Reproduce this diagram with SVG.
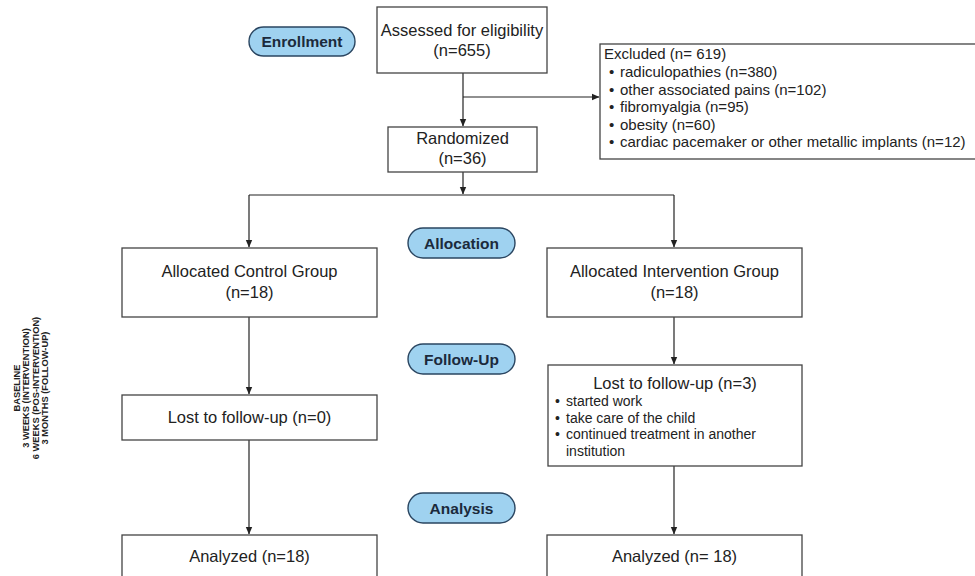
<svg xmlns="http://www.w3.org/2000/svg" width="975" height="576" viewBox="0 0 975 576">
<defs>
<marker id="ah" markerWidth="8" markerHeight="8" refX="7" refY="4" orient="auto" markerUnits="userSpaceOnUse">
<path d="M0,0.8 L7.5,4 L0,7.2 Z" fill="#222"/>
</marker>
<style>
.box{fill:#fff;stroke:#444;stroke-width:1.3}
.pill{fill:#9fd2f0;stroke:#2a4560;stroke-width:1.4}
.pt{font-family:"Liberation Sans",Arial,sans-serif;font-weight:bold;font-size:15.5px;fill:#1b2a3c;text-anchor:middle}
.t{font-family:"Liberation Sans",Arial,sans-serif;font-size:16.5px;fill:#222;text-anchor:middle}
.s{font-family:"Liberation Sans",Arial,sans-serif;font-size:15px;fill:#222}
.b{font-family:"Liberation Sans",Arial,sans-serif;font-size:14px;fill:#222}
.side{font-family:"Liberation Sans",Arial,sans-serif;font-weight:bold;font-size:9.3px;fill:#222;text-anchor:middle}
.c{fill:none;stroke:#222;stroke-width:1.2}
</style>
</defs>
<rect width="975" height="576" fill="#fff"/>

<g id="connectors">
<path class="c" d="M463,73 V126" marker-end="url(#ah)"/>
<path class="c" d="M463,97 H599" marker-end="url(#ah)"/>
<path class="c" d="M463,172 V194" marker-end="url(#ah)"/>
<path class="c" d="M249,195 H674"/>
<path class="c" d="M249,195 V247" marker-end="url(#ah)"/>
<path class="c" d="M674,195 V247" marker-end="url(#ah)"/>
<path class="c" d="M249,317 V394" marker-end="url(#ah)"/>
<path class="c" d="M674,317 V364" marker-end="url(#ah)"/>
<path class="c" d="M249,440 V534" marker-end="url(#ah)"/>
<path class="c" d="M674,466 V534" marker-end="url(#ah)"/>
</g>

<g id="enrollment">
<rect class="pill" x="249" y="27" width="106" height="29" rx="14.5"/>
<text class="pt" x="302" y="47">Enrollment</text>
</g>
<g id="allocation">
<rect class="pill" x="408" y="228" width="107" height="30" rx="15"/>
<text class="pt" x="461.5" y="248.5">Allocation</text>
</g>
<g id="followup">
<rect class="pill" x="408" y="344" width="107" height="30" rx="15"/>
<text class="pt" x="461.5" y="364.5">Follow-Up</text>
</g>
<g id="analysis">
<rect class="pill" x="408" y="493" width="107" height="30" rx="15"/>
<text class="pt" x="461.5" y="513.5">Analysis</text>
</g>

<g id="assessed">
<rect class="box" x="377" y="7" width="170" height="66"/>
<text class="t" x="462" y="36">Assessed for eligibility</text>
<text class="t" x="462" y="56">(n=655)</text>
</g>

<g id="excluded">
<rect class="box" x="600" y="44" width="385" height="115"/>
<text class="s" x="604" y="59">Excluded (n= 619)</text>
<g class="s">
<text x="609" y="77">•</text><text x="620" y="77">radiculopathies (n=380)</text>
<text x="609" y="94.5">•</text><text x="620" y="94.5">other associated pains (n=102)</text>
<text x="609" y="112">•</text><text x="620" y="112">fibromyalgia (n=95)</text>
<text x="609" y="129.5">•</text><text x="620" y="129.5">obesity (n=60)</text>
<text x="609" y="147">•</text><text x="620" y="147">cardiac pacemaker or other metallic implants (n=12)</text>
</g>
</g>

<g id="randomized">
<rect class="box" x="388" y="127" width="149" height="45"/>
<text class="t" x="462.5" y="144">Randomized</text>
<text class="t" x="462.5" y="164">(n=36)</text>
</g>

<g id="control">
<rect class="box" x="122" y="248" width="255" height="69"/>
<text class="t" x="249.5" y="277">Allocated Control Group</text>
<text class="t" x="249.5" y="298">(n=18)</text>
</g>

<g id="intervention">
<rect class="box" x="547" y="248" width="255" height="69"/>
<text class="t" x="674.5" y="277">Allocated Intervention Group</text>
<text class="t" x="674.5" y="298">(n=18)</text>
</g>

<g id="lost-control">
<rect class="box" x="122" y="395" width="255" height="45"/>
<text class="t" x="249.5" y="423">Lost to follow-up (n=0)</text>
</g>

<g id="lost-intervention">
<rect class="box" x="548" y="365" width="254" height="101"/>
<text class="t" x="675" y="389">Lost to follow-up (n=3)</text>
<g class="b">
<text x="555" y="406">•</text><text x="566" y="406">started work</text>
<text x="555" y="422.5">•</text><text x="566" y="422.5">take care of the child</text>
<text x="555" y="439">•</text><text x="566" y="439">continued treatment in another</text>
<text x="566" y="455.5">institution</text>
</g>
</g>

<g id="analyzed-control">
<rect class="box" x="122" y="535" width="255" height="60"/>
<text class="t" x="249.5" y="562">Analyzed (n=18)</text>
</g>

<g id="analyzed-intervention">
<rect class="box" x="547" y="535" width="255" height="60"/>
<text class="t" x="674.5" y="562">Analyzed (n= 18)</text>
</g>

<g id="timeline" transform="translate(0,388) rotate(-90)">
<text class="side" x="0" y="20">BASELINE</text>
<text class="side" x="0" y="29.3">3 WEEKS (INTERVENTION)</text>
<text class="side" x="0" y="38.6">6 WEEKS (POS-INTERVENTION)</text>
<text class="side" x="0" y="47.9">3 MONTHS (FOLLOW-UP)</text>
</g>
</svg>
